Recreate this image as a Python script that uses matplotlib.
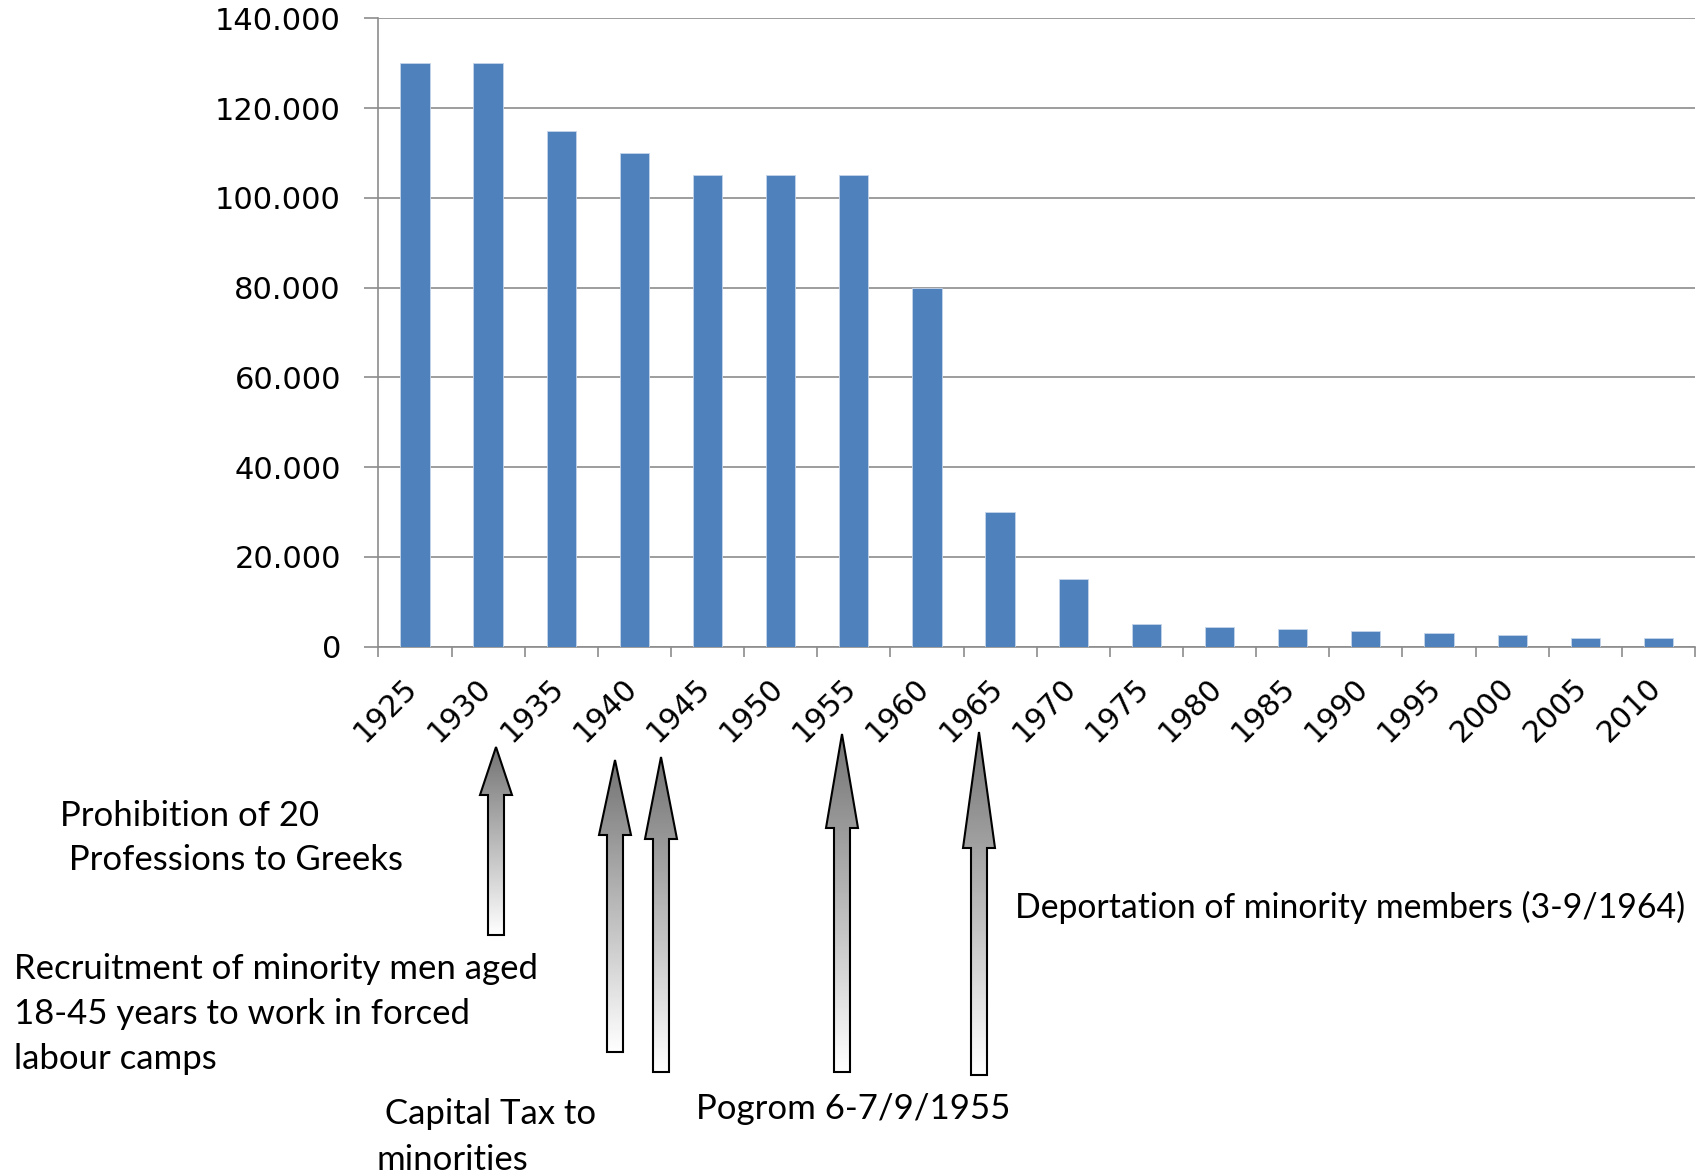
import matplotlib

matplotlib.use("Agg")
import matplotlib.pyplot as plt
import numpy as np
from matplotlib.patches import Polygon
from matplotlib.ticker import FuncFormatter

YEARS = ["1925", "1930", "1935", "1940", "1945", "1950", "1955", "1960", "1965",
         "1970", "1975", "1980", "1985", "1990", "1995", "2000", "2005", "2010"]
POPULATION = [130000, 130000, 115000, 110000, 105000, 105000, 105000, 80000, 30000,
              15000, 5000, 4500, 4000, 3500, 3000, 2500, 2000, 2000]

# event notes: text, left x (px), centre y (px) of the block, font size
NOTES = [
    ("Prohibition of 20\n Professions to Greeks", 60, 838, 25),
    ("Recruitment of minority men aged\n18-45 years to work in forced\nlabour camps", 14, 1014, 25),
    (" Capital Tax to\nminorities", 376, 1137, 25),
    ("Pogrom 6-7/9/1955", 696, 1109, 25),
    ("Deportation of minority members (3-9/1964)", 1015, 907, 24.3),
]
# arrows: centre x, tip y, head base y, tail y (figure pixels)
ARROWS = [
    (496, 747, 795, 935),
    (615, 760, 835, 1052),
    (661, 757, 839, 1072),
    (842, 734, 828, 1072),
    (979, 732, 848, 1075),
]

W, H = 1701, 1176
BAR = "#4f81bd"
GRID = "#8c8c8c"
NOTE_FONT = "Lato"


def thousands(v, _pos):
    return f"{int(v):,}".replace(",", ".")


def main():
    fig = plt.figure(figsize=(W / 100, H / 100), dpi=100)
    ax = fig.add_axes([378.4 / W, 1 - 646.7 / H, (1695 - 378.4) / W, (646.7 - 18.4) / H])

    x = np.arange(len(YEARS))
    ax.bar(x, POPULATION, width=0.4, color=BAR, edgecolor="#c5d5ea", linewidth=0.6, zorder=3)
    ax.set_xlim(-0.5, len(YEARS) - 0.5)
    ax.set_ylim(0, 140000)
    ax.set_yticks(np.arange(0, 140001, 20000))
    ax.yaxis.set_major_formatter(FuncFormatter(thousands))
    ax.grid(axis="y", color=GRID, linewidth=1.2, zorder=0)

    for side in ("top", "right"):
        ax.spines[side].set_visible(False)
    for side in ("left", "bottom"):
        ax.spines[side].set_color(GRID)
        ax.spines[side].set_linewidth(1.2)

    ax.tick_params(axis="y", length=10, width=1.2, color=GRID, pad=17, labelsize=22)
    ax.set_xticks(x)
    ax.set_xticklabels(YEARS, rotation=45, ha="right", va="center",
                       rotation_mode="anchor", fontsize=21.5)
    ax.tick_params(axis="x", which="major", length=0, pad=26)
    ax.set_xticks(np.arange(-0.5, len(YEARS)), minor=True)
    ax.tick_params(axis="x", which="minor", length=7, width=1.2, color=GRID)
    shift = matplotlib.transforms.ScaledTranslation(-0.02, 0.0, fig.dpi_scale_trans)
    for label in ax.get_xticklabels():
        label.set_transform(label.get_transform() + shift)

    over = fig.add_axes([0, 0, 1, 1], zorder=5)
    over.set_xlim(0, W)
    over.set_ylim(H, 0)
    over.axis("off")

    grad = np.linspace(0.45, 1.0, 256).reshape(-1, 1)
    for cx, tip, base, tail in ARROWS:
        pts = [
            (cx, tip), (cx + 16, base), (cx + 8, base), (cx + 8, tail),
            (cx - 8, tail), (cx - 8, base), (cx - 16, base),
        ]
        shape = Polygon(pts, closed=True, facecolor="none", edgecolor="black", linewidth=1.5, zorder=3)
        img = over.imshow(
            grad, cmap="gray", vmin=0, vmax=1, aspect="auto",
            extent=(cx - 16, cx + 16, tail, tip), zorder=2,
        )
        over.add_patch(shape)
        img.set_clip_path(shape)

    for text, left, cy, size in NOTES:
        over.text(left, cy, text, ha="left", va="center", fontsize=size,
                  family=NOTE_FONT, linespacing=1.5, color="black")

    over.set_xlim(0, W)
    over.set_ylim(H, 0)

    fig.savefig("out.png", dpi=100)


if __name__ == "__main__":
    main()
